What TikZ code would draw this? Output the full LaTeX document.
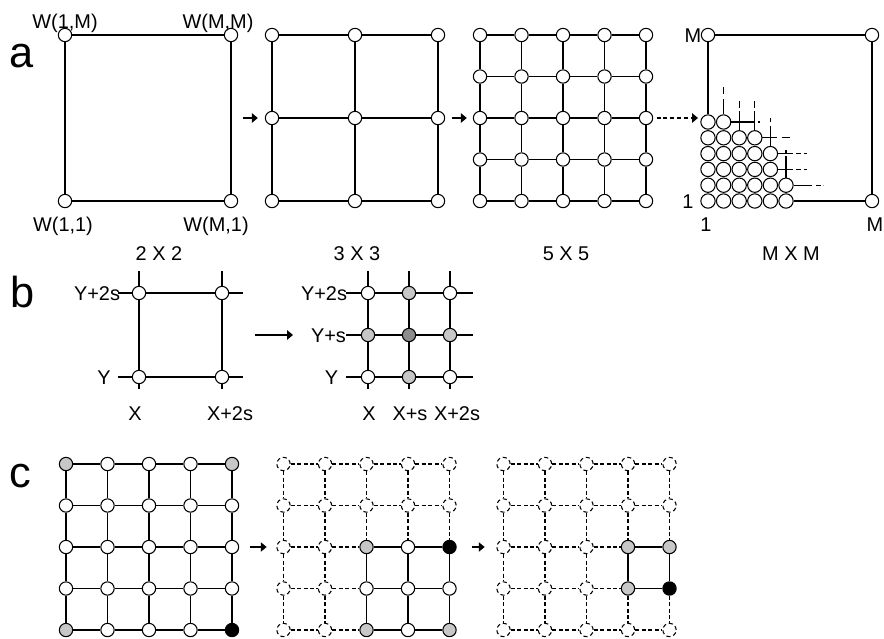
\documentclass[tikz,border=0pt]{standalone}
\usepackage{fontspec}
\setmainfont{Liberation Sans}
\usetikzlibrary{arrows.meta}

\definecolor{cgray}{gray}{0.78}
\definecolor{dgray}{gray}{0.55}

% cells of the three grids in c: 0 dropped, 1 kept, 2 gray, 3 black
\def\cellsa{{2,1,1,1,2,1,1,1,1,1,1,1,1,1,1,1,1,1,1,1,2,1,1,1,3}}
\def\cellsb{{0,0,0,0,0,0,0,0,0,0,0,0,2,1,3,0,0,1,1,1,0,0,2,1,2}}
\def\cellsc{{0,0,0,0,0,0,0,0,0,0,0,0,0,2,2,0,0,0,2,3,0,0,0,0,0}}

\tikzset{
  nd/.style={circle, draw, fill=white, inner sep=0pt, minimum size=0.4cm, line width=0.9pt},
  snd/.style={nd, minimum size=0.43cm},
  dnd/.style={nd, dash pattern=on 3.5pt off 2.5pt},
  ln/.style={line width=0.9pt},
  dln/.style={ln, dash pattern=on 3.5pt off 2pt},
  tail/.style={ln, dash pattern=#1},
  arr/.style={ln, -{Triangle[length=5pt,width=8pt]}},
  lbl/.style={font=\fontsize{17}{20}\selectfont, inner sep=0pt, anchor=base},
  panel/.style={font=\fontsize{37}{42}\selectfont, inner sep=0pt, anchor=base}
}

\begin{document}
\begin{tikzpicture}[x=0.03cm, y=-0.03cm]
\useasboundingbox (0,0) rectangle (884,639);

% ---- a ----
\node[panel] (pa) at (22,67) {a};

% 2 X 2
\foreach \i in {1,2}
  \foreach \j in {1,2}
    \node[nd] (g-\i-\j) at ({65+(\i-1)*166},{35+(\j-1)*166}) {};
\draw[ln] (g-1-1) -- (g-2-1);
\draw[ln] (g-1-2) -- (g-2-2);
\draw[ln] (g-1-1) -- (g-1-2);
\draw[ln] (g-2-1) -- (g-2-2);
\node[lbl] (w1m) at (65,28) {W(1,M)};
\node[lbl] (wmm) at (218,28) {W(M,M)};
\node[lbl] (w11) at (63,231) {W(1,1)};
\node[lbl] (wm1) at (216,231) {W(M,1)};
\node[lbl] (n2) at (159,260) {2 X 2};

% 3 X 3
\foreach \i in {1,2,3}
  \foreach \j in {1,2,3}
    \node[nd] (h-\i-\j) at ({272+(\i-1)*83},{35+(\j-1)*83}) {};
\foreach \i [count=\k from 2] in {1,2}
  \foreach \j in {1,2,3}{
    \draw[ln] (h-\i-\j) -- (h-\k-\j);
    \draw[ln] (h-\j-\i) -- (h-\j-\k);
  }
\node[lbl] (n3) at (357,260) {3 X 3};

% 5 X 5
\foreach \i in {1,...,5}
  \foreach \j in {1,...,5}
    \node[nd] (f-\i-\j) at ({480+(\i-1)*41.5},{35+(\j-1)*41.5}) {};
\foreach \i [count=\k from 2] in {1,...,4}
  \foreach \j in {1,...,5}{
    \draw[ln] (f-\i-\j) -- (f-\k-\j);
    \draw[ln] (f-\j-\i) -- (f-\j-\k);
  }
\node[lbl] (n5) at (566,260) {5 X 5};

% M X M
\node[nd] (m-tl) at (708,35) {};
\node[nd] (m-tr) at (872,35) {};
\node[nd] (m-br) at (872,201) {};
\foreach \r/\n in {1/6,2/6,3/5,4/5,5/4,6/2}
  \foreach \i in {1,...,\n}
    \node[snd] (s-\i-\r) at ({708+(\i-1)*15.6},{201-(\r-1)*15.8}) {};
\draw[ln] (m-tl) -- (m-tr);
\draw[ln] (m-tr) -- (m-br);
\draw[ln] (m-tl) -- (s-1-6);
\draw[ln] (s-6-1) -- (m-br);
% edges still growing
\draw[tail={on 13pt off 4pt on 20pt}] (s-2-6) -- ++(0,-35);
\draw[tail={on 16pt off 3pt on 20pt}] (s-3-5) -- ++(0,-36.5);
\draw[tail={on 16pt off 3pt on 20pt}] (s-4-5) -- ++(0,-36.5);
\draw[tail={on 17pt off 3pt on 20pt}] (s-5-4) -- ++(0,-35.3);
\draw[tail={on 18pt off 2pt on 20pt}] (s-6-2) -- ++(0,-35);
\draw[tail={on 19.5pt off 3pt on 20pt}] (s-2-6) -- ++(36.4,0);
\draw[tail={on 12.5pt off 4pt on 20pt}] (s-4-5) -- ++(35.2,0);
\draw[tail={on 12.5pt off 3pt on 4pt off 2.5pt on 20pt}] (s-5-4) -- ++(36.3,0);
\draw[tail={on 12.5pt off 3pt on 4pt off 2.5pt on 20pt}] (s-5-3) -- ++(36.3,0);
\draw[tail={on 16pt off 3pt on 4pt off 2pt on 20pt}] (s-6-2) -- ++(37,0);
\node[lbl] (lm) at (693,42) {M};
\node[lbl] (l1) at (688,208) {1};
\node[lbl] (b1) at (706,231) {1};
\node[lbl] (bm) at (875,231) {M};
\node[lbl] (nm) at (791,260) {M X M};

% arrows
\coordinate (g-e) at (231,118);
\coordinate (m-in) at (698,118);
\draw[arr, shorten <=0.36cm, shorten >=0.21cm] (g-e) -- (h-1-2);
\draw[arr, shorten <=0.2cm, shorten >=0.18cm] (h-3-2) -- (f-1-3);
\draw[arr, dash pattern=on 3.5pt off 2.3pt, shorten <=0.1cm] (f-5-3) -- (m-in);

% ---- b ----
\node[panel] (pb) at (23,307) {b};
\foreach \i in {1,2}
  \foreach \j in {1,2}
    \node[nd] (b-\i-\j) at ({139+(\i-1)*83},{293+(\j-1)*84}) {};
\foreach \k in {1,2}{
  \draw[ln] (b-1-\k) -- (b-2-\k);
  \draw[ln] (b-\k-1) -- (b-\k-2);
  \draw[ln] (b-\k-1) -- ++(0,-22);
  \draw[ln] (b-\k-2) -- ++(0,12);
  \draw[ln] (b-1-\k) -- ++(-21,0);
  \draw[ln] (b-2-\k) -- ++(21,0);
}
\node[lbl] (by2) at (97,300) {Y+2s};
\node[lbl] (by) at (104,384) {Y};
\node[lbl] (bx) at (135,420) {X};
\node[lbl] (bx2) at (230,420) {X+2s};

\foreach \i/\j/\fc in {1/1/white,2/1/cgray,3/1/white,1/2/cgray,2/2/dgray,3/2/cgray,1/3/white,2/3/cgray,3/3/white}
  \node[nd, fill=\fc] (c-\i-\j) at ({368+(\i-1)*41},{293+(\j-1)*42}) {};
\foreach \k in {1,2,3}{
  \draw[ln] (c-1-\k) -- (c-2-\k);
  \draw[ln] (c-2-\k) -- (c-3-\k);
  \draw[ln] (c-\k-1) -- (c-\k-2);
  \draw[ln] (c-\k-2) -- (c-\k-3);
  \draw[ln] (c-\k-1) -- ++(0,-22);
  \draw[ln] (c-\k-3) -- ++(0,12);
  \draw[ln] (c-1-\k) -- ++(-22,0);
  \draw[ln] (c-3-\k) -- ++(23,0);
}
\node[lbl] (cy2) at (324,300) {Y+2s};
\node[lbl] (cy1) at (328.5,342) {Y+s};
\node[lbl] (cy) at (331.5,384) {Y};
\node[lbl] (cx) at (369,420) {X};
\node[lbl] (cx1) at (410,420) {X+s};
\node[lbl] (cx2) at (457,420) {X+2s};

\coordinate (b-s) at (255,335);
\coordinate (b-t) at (293,335);
\draw[arr] (b-s) -- (b-t);

% ---- c ----
\node[panel] (pc) at (20,487) {c};
\foreach \g/\x/\map in {p/66/\cellsa, q/283.5/\cellsb, r/503.5/\cellsc}{
  \foreach \i in {1,...,5}
    \foreach \j in {1,...,5}{
      \pgfmathtruncatemacro\k{\map[(\j-1)*5+\i-1]}
      \edef\fc{\ifcase\k white\or white\or cgray\or black\fi}
      \ifnum\k=0
        \node[dnd] (\g-\i-\j) at ({\x+(\i-1)*41.5},{464+(\j-1)*41.5}) {};
      \else
        \node[nd, fill=\fc] (\g-\i-\j) at ({\x+(\i-1)*41.5},{464+(\j-1)*41.5}) {};
      \fi
    }
  \foreach \i [count=\m from 2] in {1,...,4}
    \foreach \j in {1,...,5}{
      % horizontal
      \pgfmathtruncatemacro\ka{\map[(\j-1)*5+\i-1]}
      \pgfmathtruncatemacro\kb{\map[(\j-1)*5+\i]}
      \pgfmathtruncatemacro\on{min(\ka,\kb)}
      \ifnum\on>0 \draw[ln] (\g-\i-\j) -- (\g-\m-\j); \else \draw[dln] (\g-\i-\j) -- (\g-\m-\j); \fi
      % vertical
      \pgfmathtruncatemacro\ka{\map[(\i-1)*5+\j-1]}
      \pgfmathtruncatemacro\kb{\map[\i*5+\j-1]}
      \pgfmathtruncatemacro\on{min(\ka,\kb)}
      \ifnum\on>0 \draw[ln] (\g-\j-\i) -- (\g-\j-\m); \else \draw[dln] (\g-\j-\i) -- (\g-\j-\m); \fi
    }
}
\draw[arr, shorten <=0.33cm, shorten >=0.29cm] (p-5-3) -- (q-1-3);
\draw[arr, shorten <=0.45cm, shorten >=0.35cm] (q-5-3) -- (r-1-3);

\end{tikzpicture}
\end{document}
